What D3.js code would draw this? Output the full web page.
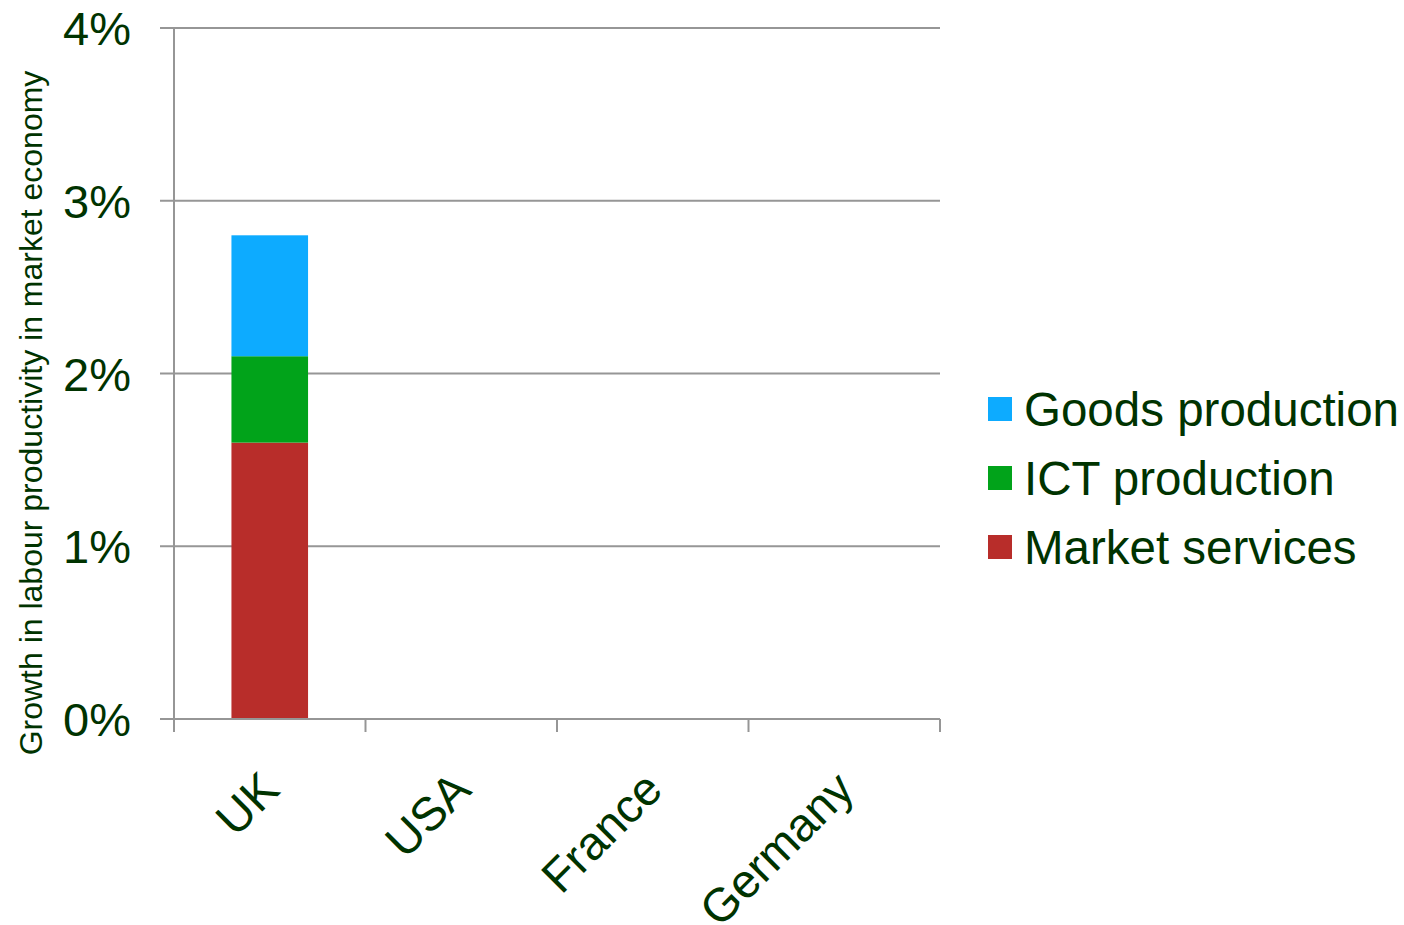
<!DOCTYPE html>
<html>
<head>
<meta charset="utf-8">
<script src="https://cdn.jsdelivr.net/npm/d3@7"></script>
<style>
  body { margin: 0; background: #fff; }
  text { font-family: "Liberation Sans", Arial, sans-serif; fill: #003300; }
</style>
</head>
<body>
<svg id="board"></svg>
<script>
// chart data
let countries = ['UK', 'USA', 'France', 'Germany']
let seriesNames = ['Market services', 'ICT production', 'Goods production']
let marketServices = [1.6, null, null, null]
let ictProduction = [0.5, null, null, null]
let goodsProduction = [0.7, null, null, null]
let yTicks = [0, 1, 2, 3, 4]

let colors = ['#b82d2a', '#01a31a', '#0dabff']

let width = 1404
let height = 925
let plotLeft = 174
let plotRight = 940
let plotTop = 28
let plotBottom = 719

let board = d3.select('#board')
    .attr('width', width)
    .attr('height', height)

let rows = countries.map((c, i) => {
    return {
        country: c,
        'Market services': marketServices[i] || 0,
        'ICT production': ictProduction[i] || 0,
        'Goods production': goodsProduction[i] || 0
    }
})

let stacked = d3.stack().keys(seriesNames)(rows)

let xScale = d3.scaleBand()
    .domain(countries)
    .range([plotLeft, plotRight])
    .paddingInner(0.6)
    .paddingOuter(0.3)

let yScale = d3.scaleLinear()
    .domain([0, 4])
    .range([plotBottom, plotTop])

let gridColor = '#969696'

// horizontal gridlines + left ticks
board.append('g')
    .selectAll('line')
    .data(yTicks)
    .enter()
    .append('line')
    .attr('x1', plotLeft - 14)
    .attr('x2', plotRight)
    .attr('y1', (d) => yScale(d))
    .attr('y2', (d) => yScale(d))
    .attr('stroke', gridColor)
    .attr('stroke-width', 2)

// y axis line
board.append('line')
    .attr('x1', plotLeft).attr('x2', plotLeft)
    .attr('y1', yScale(4)).attr('y2', yScale(0))
    .attr('stroke', gridColor)
    .attr('stroke-width', 2)

// y tick labels
board.append('g')
    .selectAll('text')
    .data(yTicks)
    .enter()
    .append('text')
    .attr('x', 131)
    .attr('y', (d) => yScale(d) + 17)
    .attr('text-anchor', 'end')
    .style('font-size', '47px')
    .text((d) => d + '%')

// bars
board.append('g')
    .selectAll('g')
    .data(stacked)
    .enter()
    .append('g')
    .attr('fill', (d, i) => colors[i])
    .selectAll('rect')
    .data((d) => d.filter((p) => p[1] - p[0] > 0))
    .enter()
    .append('rect')
    .attr('x', (p) => xScale(p.data.country))
    .attr('width', xScale.bandwidth())
    .attr('y', (p) => yScale(p[1]))
    .attr('height', (p) => yScale(p[0]) - yScale(p[1]))

// x axis line and ticks at category boundaries
let step = xScale.step()
let gap = step - xScale.bandwidth()
let bounds = countries.map((c) => xScale(c) - gap / 2)
bounds.push(plotRight)

board.append('line')
    .attr('x1', plotLeft - 14).attr('x2', plotRight)
    .attr('y1', plotBottom).attr('y2', plotBottom)
    .attr('stroke', gridColor)
    .attr('stroke-width', 2)

board.append('g')
    .selectAll('line')
    .data(bounds)
    .enter()
    .append('line')
    .attr('x1', (d) => d).attr('x2', (d) => d)
    .attr('y1', plotBottom).attr('y2', plotBottom + 13)
    .attr('stroke', gridColor)
    .attr('stroke-width', 2)

// x labels, rotated
board.append('g')
    .selectAll('text')
    .data(countries)
    .enter()
    .append('text')
    .attr('text-anchor', 'end')
    .attr('transform', (d) => 'translate(' + (xScale(d) + xScale.bandwidth() / 2 + 12) + ',792) rotate(-45)')
    .style('font-size', '47px')
    .text((d) => d)

// y axis title
board.append('text')
    .attr('transform', 'translate(42,413) rotate(-90)')
    .attr('text-anchor', 'middle')
    .style('font-size', '32px')
    .text('Growth in labour productivity in market economy')

// legend
let legendItems = ['Goods production', 'ICT production', 'Market services']
let legendColors = [colors[2], colors[1], colors[0]]
let legend = board.append('g')
    .selectAll('g')
    .data(legendItems)
    .enter()
    .append('g')
    .attr('transform', (d, i) => 'translate(988,' + (397 + i * 69) + ')')

legend.append('rect')
    .attr('width', 24)
    .attr('height', 24)
    .attr('fill', (d, i) => legendColors[i])

legend.append('text')
    .attr('x', 36)
    .attr('y', 29)
    .style('font-size', '47.5px')
    .text((d) => d)
</script>
</body>
</html>
